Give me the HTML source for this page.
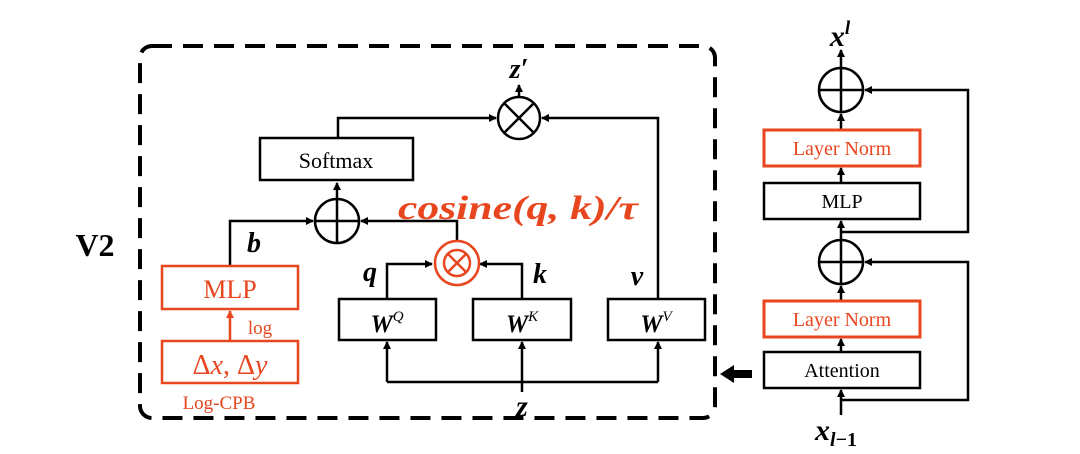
<!DOCTYPE html>
<html><head><meta charset="utf-8"><style>
html,body{margin:0;padding:0;background:#fff;}
svg{display:block;}
text{font-family:"Liberation Serif",serif;}
</style></head><body>
<svg width="1080" height="454" viewBox="0 0 1080 454" xmlns="http://www.w3.org/2000/svg">
<defs>
<marker id="a" markerWidth="8" markerHeight="8" refX="7" refY="4" orient="auto" markerUnits="userSpaceOnUse"><path d="M0,0 L8,4 L0,8 z" fill="#000"/></marker>
<marker id="ao" markerWidth="8" markerHeight="8" refX="7" refY="4" orient="auto" markerUnits="userSpaceOnUse"><path d="M0,0 L8,4 L0,8 z" fill="#e8461e"/></marker>
</defs>
<rect x="140" y="46" width="575" height="372" rx="12" fill="none" stroke="#000" stroke-width="4" stroke-dasharray="20,11"/>
<text x="95" y="256" font-size="32" font-weight="bold" text-anchor="middle">V2</text>

<g stroke="#000" stroke-width="2.5" fill="none">
<circle cx="519" cy="118" r="21"/>
<line x1="504" y1="103" x2="534" y2="133"/><line x1="534" y1="103" x2="504" y2="133"/>
<line x1="519" y1="97" x2="519" y2="85" marker-end="url(#a)"/>
<polyline points="338,138 338,118 496,118" marker-end="url(#a)"/>
<polyline points="658,298 658,118 542,118" marker-end="url(#a)"/>
<rect x="260" y="138" width="153" height="42"/>
<circle cx="337" cy="221" r="22"/>
<line x1="315" y1="221" x2="359" y2="221"/><line x1="337" y1="199" x2="337" y2="243"/>
<line x1="337" y1="199" x2="337" y2="183" marker-end="url(#a)"/>
<polyline points="230,266 230,221 313,221" marker-end="url(#a)"/>
<polyline points="457,240 457,221 361,221" marker-end="url(#a)"/>
<rect x="339" y="299" width="97" height="41"/>
<rect x="473" y="299" width="98" height="41"/>
<rect x="608" y="299" width="97" height="41"/>
<polyline points="387,299 387,264 432,264" marker-end="url(#a)"/>
<polyline points="522,299 522,264 480,264" marker-end="url(#a)"/>
<polyline points="387,382 658,382"/>
<line x1="387" y1="382" x2="387" y2="342" marker-end="url(#a)"/>
<line x1="658" y1="382" x2="658" y2="342" marker-end="url(#a)"/>
<line x1="522" y1="392" x2="522" y2="342" marker-end="url(#a)"/>
</g>
<g stroke="#e8461e" stroke-width="2.5" fill="none">
<rect x="162" y="266" width="136" height="43"/>
<rect x="162" y="341" width="136" height="42"/>
<line x1="230" y1="341" x2="230" y2="311" marker-end="url(#ao)"/>
<circle cx="457" cy="263" r="22"/>
<circle cx="457" cy="263" r="13"/>
<line x1="448" y1="254" x2="466" y2="272"/><line x1="466" y1="254" x2="448" y2="272"/>
</g>
<text x="336" y="168" font-size="22" text-anchor="middle">Softmax</text>
<text x="230" y="298" font-size="26" fill="#e8461e" text-anchor="middle">MLP</text>
<text x="260" y="334" font-size="19" fill="#e8461e" text-anchor="middle">log</text>
<text x="230" y="374" font-size="28" fill="#e8461e" text-anchor="middle">Δ<tspan font-style="italic">x</tspan>, Δ<tspan font-style="italic">y</tspan></text>
<text x="219" y="409" font-size="19" fill="#e8461e" text-anchor="middle">Log-CPB</text>
<text x="398" y="219" font-size="34" fill="#e8461e" font-weight="bold" font-style="italic" textLength="240" lengthAdjust="spacingAndGlyphs">cosine(q, k)/τ</text>
<text x="519" y="78" font-size="28" font-weight="bold" font-style="italic" text-anchor="middle">z′</text>
<text x="254" y="252" font-size="28" font-weight="bold" font-style="italic" text-anchor="middle">b</text>
<text x="370" y="281" font-size="28" font-weight="bold" font-style="italic" text-anchor="middle">q</text>
<text x="540" y="283" font-size="28" font-weight="bold" font-style="italic" text-anchor="middle">k</text>
<text x="637" y="285" font-size="28" font-weight="bold" font-style="italic" text-anchor="middle">v</text>
<text x="387" y="332" font-size="25" font-weight="bold" font-style="italic" text-anchor="middle">W<tspan font-size="15" font-weight="normal" dy="-11">Q</tspan></text>
<text x="522" y="332" font-size="25" font-weight="bold" font-style="italic" text-anchor="middle">W<tspan font-size="15" font-weight="normal" dy="-11">K</tspan></text>
<text x="656" y="332" font-size="25" font-weight="bold" font-style="italic" text-anchor="middle">W<tspan font-size="15" font-weight="normal" dy="-11">V</tspan></text>
<text x="522" y="416" font-size="30" font-weight="bold" font-style="italic" text-anchor="middle">z</text>

<g stroke="#000" stroke-width="2.5" fill="none">
<circle cx="841" cy="90" r="22"/>
<line x1="819" y1="90" x2="863" y2="90"/><line x1="841" y1="68" x2="841" y2="112"/>
<line x1="841" y1="68" x2="841" y2="50" marker-end="url(#a)"/>
<rect x="764" y="183" width="156" height="36"/>
<circle cx="841" cy="262" r="22"/>
<line x1="819" y1="262" x2="863" y2="262"/><line x1="841" y1="240" x2="841" y2="284"/>
<line x1="841" y1="130" x2="841" y2="114" marker-end="url(#a)"/>
<line x1="841" y1="183" x2="841" y2="168" marker-end="url(#a)"/>
<line x1="841" y1="240" x2="841" y2="221" marker-end="url(#a)"/>
<polyline points="841,232 968,232 968,90 865,90" marker-end="url(#a)"/>
<line x1="841" y1="300" x2="841" y2="286" marker-end="url(#a)"/>
<line x1="841" y1="352" x2="841" y2="339" marker-end="url(#a)"/>
<rect x="764" y="352" width="156" height="36"/>
<line x1="841" y1="415" x2="841" y2="390" marker-end="url(#a)"/>
<polyline points="841,400 968,400 968,262 865,262" marker-end="url(#a)"/>
</g>
<g stroke="#e8461e" stroke-width="3" fill="none">
<rect x="764" y="130" width="156" height="36"/>
<rect x="764" y="301" width="156" height="36"/>
</g>
<text x="842" y="155" font-size="20" fill="#e8461e" text-anchor="middle">Layer Norm</text>
<text x="842" y="208" font-size="20" text-anchor="middle">MLP</text>
<text x="842" y="326" font-size="20" fill="#e8461e" text-anchor="middle">Layer Norm</text>
<text x="842" y="377" font-size="20" text-anchor="middle">Attention</text>
<text x="840" y="46" font-size="30" font-weight="bold" font-style="italic" text-anchor="middle">x<tspan font-size="19" dy="-12">l</tspan></text>
<text x="836" y="440" font-size="30" font-weight="bold" font-style="italic" text-anchor="middle">x<tspan font-size="20" dy="6">l</tspan><tspan font-size="20" font-style="normal">−1</tspan></text>
<path d="M720,374 L734,365 L734,370 L752,370 L752,378 L734,378 L734,383 Z" fill="#000"/>
</svg>
</body></html>
